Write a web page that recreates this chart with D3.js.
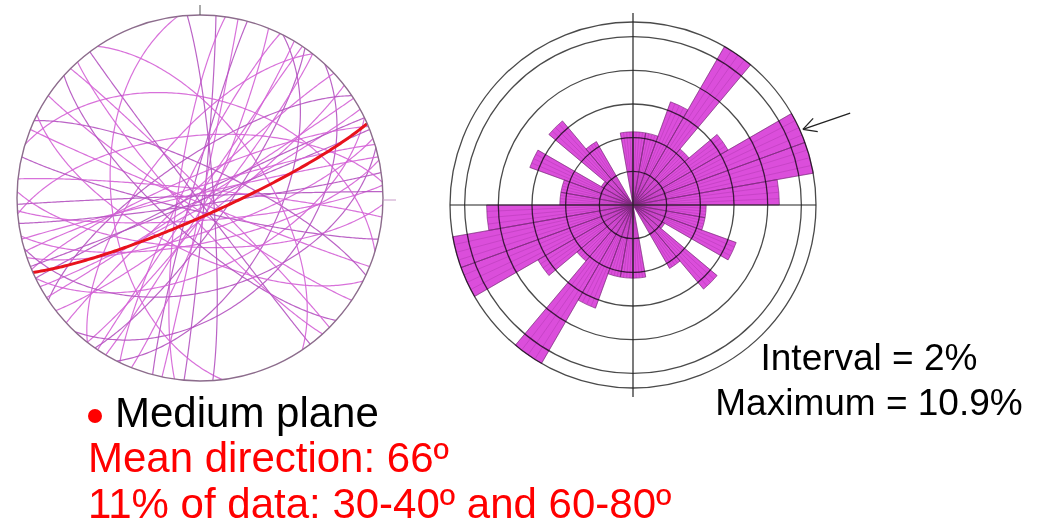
<!DOCTYPE html>
<html>
<head>
<meta charset="utf-8">
<script src="https://d3js.org/d3.v7.min.js"></script>
<style>
  body { margin: 0; background: #fff; }
  text { font-family: "Liberation Sans", Arial, sans-serif; }
</style>
</head>
<body>
<div id="chart"></div>
<script>
// 46 planes: strike (right-hand rule) and dip, degrees
const strikes = [5, 188, 12, 195, 22, 206, 27, 31, 214, 35, 218, 38, 43, 227, 52, 236, 57,
                 61, 244, 64, 247, 68, 71, 253, 74, 257, 78, 82, 265, 86, 268, 92, 276,
                 103, 287, 112, 295, 117, 124, 132, 315, 138, 143, 326, 173, 356];
const dips    = [88, 80, 89, 86, 85, 82, 55, 87, 89, 78, 65, 84, 42, 86, 82, 72, 89,
                 86, 88, 58, 80, 89, 75, 85, 48, 88, 70, 87, 62, 80, 89, 68, 86,
                 84, 45, 88, 76, 66, 85, 74, 87, 82, 89, 60, 50, 84];
const meanPlane = {strike: 66, dip: 82};
const binSize = 10;           // rose class width, degrees
const ringStep = 2;           // rose ring interval, percent
const noteLines = ["Interval = 2%", "Maximum = 10.9%"];
const legendTitle = "Medium plane";
const legendLines = ["Mean direction: 66º", "11% of data: 30-40º and 60-80º"];

const W = 1037, H = 529;
const rad = Math.PI / 180;
const svg = d3.select("#chart").append("svg").attr("width", W).attr("height", H);

// ---------- stereonet (equal-area, lower hemisphere) ----------
const sn = {cx: 200, cy: 198, R: 183};
function project(trend, plunge) {
  const r = sn.R * Math.SQRT2 * Math.sin((90 - plunge) / 2 * rad);
  return [sn.cx + r * Math.sin(trend * rad), sn.cy - r * Math.cos(trend * rad)];
}
function greatCircle(strike, dip) {
  const s = strike * rad, dd = (strike + 90) * rad, d = dip * rad;
  const sv = [Math.sin(s), Math.cos(s), 0];
  const dv = [Math.cos(d) * Math.sin(dd), Math.cos(d) * Math.cos(dd), Math.sin(d)];
  return d3.range(0, 180.5, 1).map(function(a) {
    const c = Math.cos(a * rad), si = Math.sin(a * rad);
    const v = [c * sv[0] + si * dv[0], c * sv[1] + si * dv[1], si * dv[2]];
    const plunge = Math.asin(Math.min(1, v[2])) / rad;
    const trend = Math.atan2(v[0], v[1]) / rad;
    return project(trend, plunge);
  });
}
const line = d3.line();
const net = svg.append("g");

net.append("circle").attr("cx", sn.cx).attr("cy", sn.cy).attr("r", sn.R)
  .attr("fill", "#fff").attr("stroke", "none");

net.selectAll("path.gc")
  .data(strikes.map(function(s, i) { return {strike: s, dip: dips[i]}; }))
  .enter().append("path")
  .attr("class", "gc")
  .attr("d", function(p) { return line(greatCircle(p.strike, p.dip)); })
  .attr("fill", "none")
  .attr("stroke", function(p, i) { return i % 3 === 0 ? "#b452c0" : "#d462d6"; })
  .attr("stroke-opacity", 0.9)
  .attr("stroke-width", 1.2);

net.append("path")
  .attr("d", line(greatCircle(meanPlane.strike, meanPlane.dip)))
  .attr("fill", "none").attr("stroke", "#e8121c").attr("stroke-width", 3);

net.append("circle").attr("cx", sn.cx).attr("cy", sn.cy).attr("r", sn.R)
  .attr("fill", "none").attr("stroke", "#8c6c8c").attr("stroke-width", 1.4);
// north and east ticks
net.append("line").attr("x1", sn.cx).attr("x2", sn.cx)
  .attr("y1", sn.cy - sn.R).attr("y2", sn.cy - sn.R - 10)
  .attr("stroke", "#555").attr("stroke-width", 1);
net.append("line").attr("x1", sn.cx + sn.R).attr("x2", sn.cx + sn.R + 13)
  .attr("y1", sn.cy + 2).attr("y2", sn.cy + 2)
  .attr("stroke", "#c89ac8").attr("stroke-width", 1);

// ---------- rose diagram ----------
const rose = {cx: 633, cy: 205, R: 183};
const bins = d3.bin().domain([0, 180]).thresholds(d3.range(binSize, 180, binSize))(
  strikes.map(function(s) { return s % 180; }));
const pct = bins.map(function(b) { return b.length / strikes.length * 100; });
const maxPct = d3.max(pct);
const r = d3.scaleLinear().domain([0, maxPct]).range([0, rose.R]);

const petals = [];
bins.forEach(function(b, i) {
  [0, 180].forEach(function(off) {
    petals.push({a0: b.x0 + off, a1: b.x1 + off, p: pct[i]});
  });
});
const arc = d3.arc().innerRadius(0)
  .startAngle(function(d) { return d.a0 * rad; })
  .endAngle(function(d) { return d.a1 * rad; })
  .outerRadius(function(d) { return r(d.p); });

const rg = svg.append("g").attr("transform", "translate(" + rose.cx + "," + rose.cy + ")");
rg.selectAll("path.petal").data(petals.filter(function(d) { return d.p > 0; }))
  .enter().append("path").attr("class", "petal")
  .attr("d", arc).attr("fill", "#db4edb").attr("stroke", "none");

// fine fan lines inside the petals
const fan = [];
petals.forEach(function(d) {
  if (d.p <= 0) return;
  d3.range(d.a0, d.a1 + 0.01, 2.5).forEach(function(a) { fan.push({a: a, p: d.p}); });
});
rg.selectAll("line.fan").data(fan).enter().append("line").attr("class", "fan")
  .attr("x1", 0).attr("y1", 0)
  .attr("x2", function(d) { return r(d.p) * Math.sin(d.a * rad); })
  .attr("y2", function(d) { return -r(d.p) * Math.cos(d.a * rad); })
  .attr("stroke", "#6a106a").attr("stroke-opacity", 0.22).attr("stroke-width", 0.8);

rg.selectAll("path.outline").data(petals.filter(function(d) { return d.p > 0; }))
  .enter().append("path").attr("class", "outline")
  .attr("d", arc).attr("fill", "none").attr("stroke", "#7a287a")
  .attr("stroke-opacity", 0.7).attr("stroke-width", 0.9);

const rings = d3.range(ringStep, maxPct, ringStep).concat([maxPct]);
rg.selectAll("circle.ring").data(rings).enter().append("circle").attr("class", "ring")
  .attr("r", function(d) { return r(d); })
  .attr("fill", "none").attr("stroke", "#4a4a4a").attr("stroke-width", 1.3)
  .style("mix-blend-mode", "multiply");

rg.append("line").attr("x1", 0).attr("x2", 0)
  .attr("y1", -rose.R - 9).attr("y2", rose.R + 9)
  .attr("stroke", "#222").attr("stroke-width", 1.2);
rg.append("line").attr("y1", 0).attr("y2", 0)
  .attr("x1", -rose.R).attr("x2", rose.R)
  .attr("stroke", "#222").attr("stroke-width", 1.2);

// arrow at the mean direction
const tipR = r(maxPct) + 3;
const tip = [tipR * Math.sin(meanPlane.strike * rad), -tipR * Math.cos(meanPlane.strike * rad)];
const back = 71 * rad, len = 50;
const tail = [tip[0] + len * Math.sin(back), tip[1] - len * Math.cos(back)];
rg.append("line").attr("x1", tail[0]).attr("y1", tail[1]).attr("x2", tip[0]).attr("y2", tip[1])
  .attr("stroke", "#222").attr("stroke-width", 1.3);
[-28, 28].forEach(function(sp) {
  const a = back + sp * rad;
  rg.append("line").attr("x1", tip[0]).attr("y1", tip[1])
    .attr("x2", tip[0] + 15 * Math.sin(a)).attr("y2", tip[1] - 15 * Math.cos(a))
    .attr("stroke", "#222").attr("stroke-width", 1.3);
});

// ---------- texts ----------
svg.selectAll("text.note").data(noteLines).enter().append("text").attr("class", "note")
  .attr("x", 869).attr("y", function(d, i) { return 370 + i * 45; })
  .attr("text-anchor", "middle").attr("font-size", 37).attr("fill", "#000")
  .text(function(d) { return d; });

svg.append("circle").attr("cx", 95).attr("cy", 416).attr("r", 7).attr("fill", "#f00");
svg.append("text").attr("x", 115).attr("y", 427).attr("font-size", 42).attr("fill", "#000")
  .text(legendTitle);
svg.selectAll("text.leg").data(legendLines).enter().append("text").attr("class", "leg")
  .attr("x", 88).attr("y", function(d, i) { return 472 + i * 46; })
  .attr("font-size", 42).attr("fill", "#f00")
  .text(function(d) { return d; });
</script>
</body>
</html>
